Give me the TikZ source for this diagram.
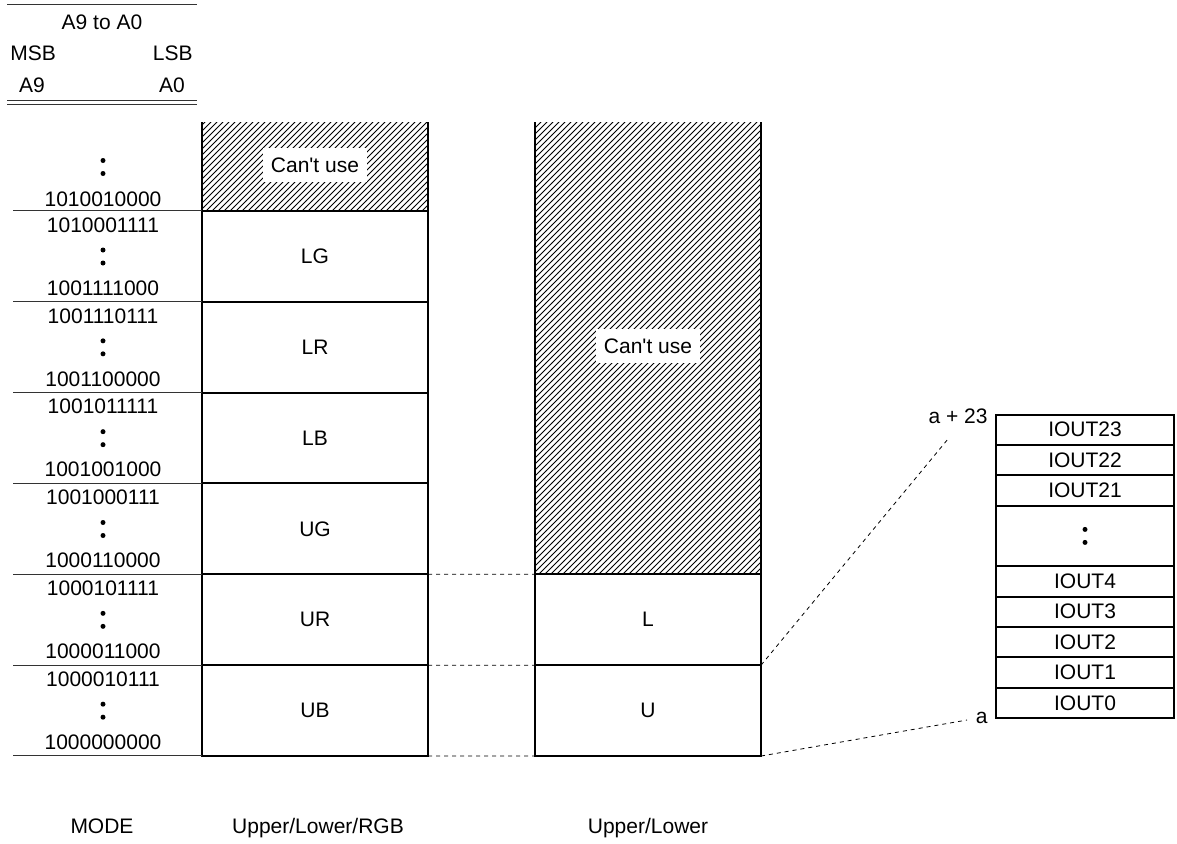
\documentclass[tikz,border=0pt]{standalone}
\usepackage{fontspec}
\setmainfont{Liberation Sans}
\usetikzlibrary{patterns,positioning}

\begin{document}
\begin{tikzpicture}[x=0.5pt,y=-0.5pt,
  every node/.style={font=\fontsize{10.5}{12}\selectfont,inner sep=0pt},
  blk/.style={draw,line width=1pt,minimum width=113pt,minimum height=45.42pt,outer sep=0pt},
  reg/.style={draw,line width=1pt,minimum width=89pt,minimum height=15.2pt,outer sep=0pt},
  wall/.style={line width=1pt},
  rule/.style={line width=0.5pt,black!80},
  link/.style={dash pattern=on 2pt off 2pt,line width=0.4pt},
  hatch/.style={pattern=north east lines},
  tag/.style={fill=white,inner xsep=4pt,inner ysep=5pt}]
  \useasboundingbox (0,0) rectangle (1177,843);
  % address header
  \draw[rule] (7,4) -- (197,4);
  \node (hdr) at (102,22) {A9 to A0};
  \node[anchor=west] (msb) at (10,53) {MSB};
  \node[anchor=east] (lsb) at (193,53) {LSB};
  \node (a9) at (32,85) {A9};
  \node (a0) at (172,85) {A0};
  \draw[rule] (7,100) -- (197,100) (7,104) -- (197,104);
  % Upper/Lower/RGB
  \fill[hatch] (202,122) rectangle (428,211);
  \draw[wall] (202,122) -- (202,211) -- (428,211) -- (428,122);
  \node[tag] (nl) at (315,165) {Can\textquotesingle t use};
  \fill (103,160.5) circle (1.25pt) (103,173.5) circle (1.25pt);
  \node (top0) at (103,199) {1010010000};
  \foreach \nm/\hi/\lo [count=\i from 0] in {LG/1010001111/1001111000,
    LR/1001110111/1001100000, LB/1001011111/1001001000,
    UG/1001000111/1000110000, UR/1000101111/1000011000,
    UB/1000010111/1000000000} {
    \node[blk] (\nm) at (315,{256.4+90.83*\i}) {\nm};
    \draw[rule] (\nm.north west) -- ++(-189,0);
    \node (hi\i) at (103,{225+90.83*\i}) {\hi};
    \node (lo\i) at (103,{288+90.83*\i}) {\lo};
    \fill (103,{250+90.83*\i}) circle (1.25pt) (103,{263+90.83*\i}) circle (1.25pt);
  }
  \draw[rule] (UB.south west) -- ++(-189,0);
  % Upper/Lower
  \fill[hatch] (535,122) rectangle (761,574.3);
  \draw[wall] (535,122) -- (535,574.3) -- (761,574.3) -- (761,122);
  \node[tag] (nr) at (648,346) {Can\textquotesingle t use};
  \node[blk] (L) at (648,619.75) {L};
  \node[blk] (U) at (648,710.6) {U};
  \draw[link] (UR.north east) -- (L.north west);
  \draw[link] (UB.north east) -- (U.north west);
  \draw[link] (UB.south east) -- (U.south west);
  % IOUT registers
  \node[reg,anchor=north] (o23) at (1085,414.5) {IOUT23};
  \node[reg,below=0pt of o23] (o22) {IOUT22};
  \node[reg,below=0pt of o22] (o21) {IOUT21};
  \node[reg,below=0pt of o21,minimum height=30.2pt] (od) {};
  \fill (od.center) ++(0,-6.5) circle (1.25pt) (od.center) ++(0,6.5) circle (1.25pt);
  \node[reg,below=0pt of od] (o4) {IOUT4};
  \node[reg,below=0pt of o4] (o3) {IOUT3};
  \node[reg,below=0pt of o3] (o2) {IOUT2};
  \node[reg,below=0pt of o2] (o1) {IOUT1};
  \node[reg,below=0pt of o1] (o0) {IOUT0};
  \node[anchor=base east] (ahi) at (988,423) {a + 23};
  \node[anchor=base east] (alo) at (988,723) {a};
  \coordinate (tp) at (948,439);
  \coordinate (bt) at (967,720);
  \draw[link] (U.north east) -- (tp);
  \draw[link] (U.south east) -- (bt);
  % modes
  \node[anchor=base] (mode) at (102,833) {MODE};
  \node[anchor=base] (m1) at (318,833) {Upper/Lower/RGB};
  \node[anchor=base] (m2) at (648,833) {Upper/Lower};
\end{tikzpicture}
\end{document}
